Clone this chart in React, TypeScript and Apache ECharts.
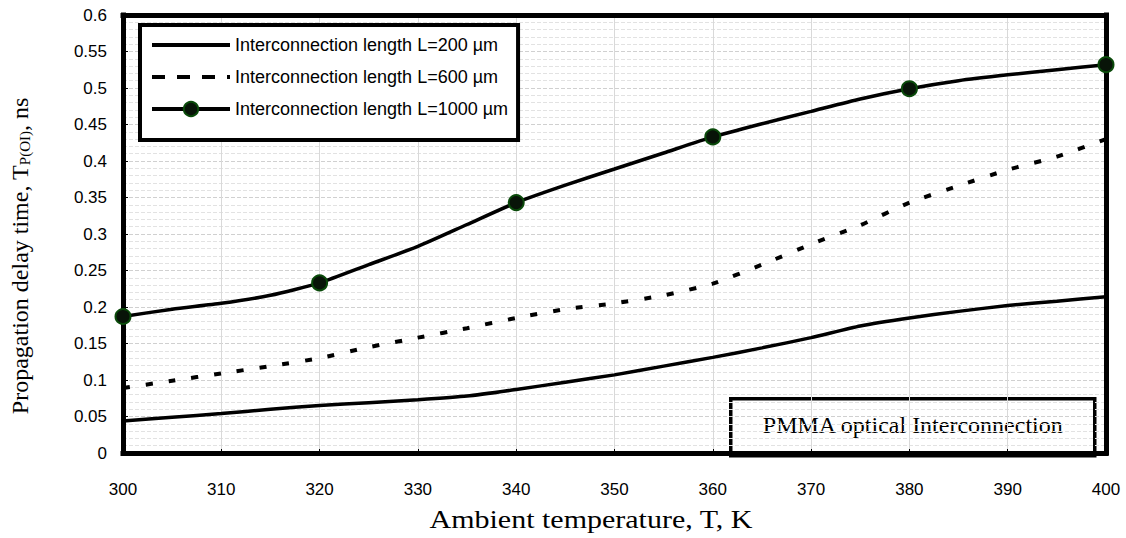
import React, { useEffect, useRef } from "react";
import * as echarts from "echarts";

const temps = [300, 305, 310, 315, 320, 325, 330, 335, 340, 345, 350, 355, 360, 365, 370, 375, 380, 385, 390, 395, 400];
const delayL200 = [0.044, 0.049, 0.054, 0.06, 0.065, 0.069, 0.073, 0.078, 0.087, 0.097, 0.107, 0.119, 0.131, 0.144, 0.158, 0.174, 0.185, 0.194, 0.202, 0.208, 0.214];
const delayL600 = [0.089, 0.099, 0.109, 0.119, 0.13, 0.145, 0.158, 0.171, 0.185, 0.197, 0.205, 0.216, 0.232, 0.258, 0.286, 0.312, 0.343, 0.366, 0.388, 0.406, 0.43];
const delayL1000 = [0.187, 0.197, 0.205, 0.216, 0.233, 0.258, 0.283, 0.313, 0.343, 0.367, 0.389, 0.411, 0.433, 0.451, 0.468, 0.485, 0.499, 0.51, 0.518, 0.525, 0.532];
const markerTemps = [300, 320, 340, 360, 380, 400];
const seriesNames = [
  "Interconnection length L=200 µm",
  "Interconnection length L=600 µm",
  "Interconnection length L=1000 µm",
];
const xTitle = "Ambient temperature, T, K";
const yTitleMain = "Propagation delay time, T";
const yTitleSub = "P(OI)";
const yTitleEnd = ", ns";
const boxLabel = "PMMA optical Interconnection";

export default function App() {
  const ref = useRef<HTMLDivElement>(null);
  useEffect(() => {
    if (!ref.current) return;
    const chart = echarts.init(ref.current, undefined, { renderer: "svg" });
    const sans = "Liberation Sans, Arial, sans-serif";
    const serif = "Liberation Serif, Times New Roman, serif";
    const pair = (arr: number[]) => temps.map((t, i) => [t, arr[i]]);
    const frameLine = { show: true, onZero: false, lineStyle: { color: "#000", width: 5, cap: "square" } };
    chart.setOption({
      animation: false,
      backgroundColor: "#fff",
      grid: { left: 123, right: 20, top: 15, bottom: 85 },
      legend: {
        orient: "vertical",
        left: 140,
        top: 25,
        padding: [11, 10, 22, 10],
        itemWidth: 78,
        itemHeight: 18,
        itemGap: 14,
        backgroundColor: "#fff",
        borderColor: "#000",
        borderWidth: 4,
        textStyle: { fontFamily: sans, fontSize: 18, color: "#000" },
        lineStyle: { width: 4, color: "#000" },
        data: [
          { name: seriesNames[0], itemStyle: { opacity: 0 } },
          { name: seriesNames[1], itemStyle: { opacity: 0 }, lineStyle: { width: 4, color: "#000", type: [13, 12] } },
          { name: seriesNames[2] },
        ],
      },
      xAxis: [
        {
          type: "value",
          min: 300,
          max: 400,
          interval: 10,
          axisLine: frameLine,
          axisTick: { show: true, inside: true, length: 4, lineStyle: { color: "#000" } },
          axisLabel: { margin: 28, fontFamily: sans, fontSize: 17, color: "#000" },
          splitLine: { show: true, lineStyle: { color: "#d9d9d9", width: 1 } },
        },
        {
          type: "value",
          position: "top",
          min: 300,
          max: 400,
          interval: 10,
          axisLine: frameLine,
          axisTick: { show: false },
          axisLabel: { show: false },
          splitLine: { show: false },
        },
      ],
      yAxis: [
        {
          type: "value",
          min: 0,
          max: 0.6,
          interval: 0.05,
          axisLine: frameLine,
          axisTick: { show: true, inside: true, length: 5, lineStyle: { color: "#000" } },
          minorTick: { show: true, splitNumber: 5, length: 3, lineStyle: { color: "#000" } },
          axisLabel: {
            margin: 16,
            fontFamily: sans,
            fontSize: 17,
            color: "#000",
            formatter: (v: number) => String(+v.toFixed(2)),
          },
          splitLine: { show: true, lineStyle: { color: "#d0d0d0", width: 1, type: "dashed" } },
          minorSplitLine: { show: true, lineStyle: { color: "#e2e2e2", width: 1, type: "dashed" } },
        },
        {
          type: "value",
          position: "right",
          min: 0,
          max: 0.6,
          interval: 0.05,
          axisLine: frameLine,
          axisTick: { show: false },
          axisLabel: { show: false },
          splitLine: { show: false },
        },
      ],
      series: [
        {
          name: seriesNames[0],
          type: "line",
          data: pair(delayL200),
          smooth: 0.2,
          symbol: "none",
          color: "#000",
          lineStyle: { color: "#000", width: 3.5 },
        },
        {
          name: seriesNames[1],
          type: "line",
          data: pair(delayL600),
          smooth: 0.2,
          symbol: "none",
          color: "#000",
          lineStyle: { color: "#000", width: 4, type: [7, 16] },
        },
        {
          name: seriesNames[2],
          type: "line",
          data: temps.map((t, i) =>
            markerTemps.includes(t)
              ? { value: [t, delayL1000[i]] }
              : { value: [t, delayL1000[i]], symbol: "none" }
          ),
          smooth: 0.2,
          symbol: "circle",
          symbolSize: 15,
          showAllSymbol: true,
          clip: false,
          z: 5,
          color: "#081408",
          itemStyle: { color: "#081408", borderColor: "#0a4a0a", borderWidth: 2 },
          lineStyle: { color: "#000", width: 3.5 },
        },
      ],
      graphic: [
        {
          type: "text",
          x: 591,
          y: 519,
          scaleX: 1.2,
          style: {
            text: xTitle,
            fontFamily: serif,
            fontSize: 25,
            fill: "#000",
            align: "center",
            verticalAlign: "middle",
          },
        },
        {
          type: "text",
          x: 20,
          y: 256,
          rotation: Math.PI / 2,
          style: {
            text: `${yTitleMain}{sub|${yTitleSub}}${yTitleEnd}`,
            fontFamily: serif,
            fontSize: 24,
            fill: "#000",
            align: "center",
            verticalAlign: "middle",
            rich: {
              sub: { fontFamily: serif, fontSize: 15, fill: "#000", verticalAlign: "bottom", padding: [9, 0, 0, 0] },
            },
          },
        },
        {
          type: "group",
          left: 729,
          top: 397,
          children: [
            {
              type: "rect",
              shape: { x: 0, y: 0, width: 364, height: 57 },
              style: { fill: "#fff", stroke: "#000", lineWidth: 3.5 },
            },
            {
              type: "text",
              x: 182,
              y: 26,
              style: {
                text: boxLabel,
                fontFamily: serif,
                fontSize: 24,
                fill: "#000",
                align: "center",
                verticalAlign: "middle",
              },
            },
          ],
        },
      ],
    });
    return () => chart.dispose();
  }, []);
  return (
    <div
      ref={ref}
      style={{ position: "fixed", left: 0, top: 0, width: 1126, height: 538 }}
    />
  );
}
